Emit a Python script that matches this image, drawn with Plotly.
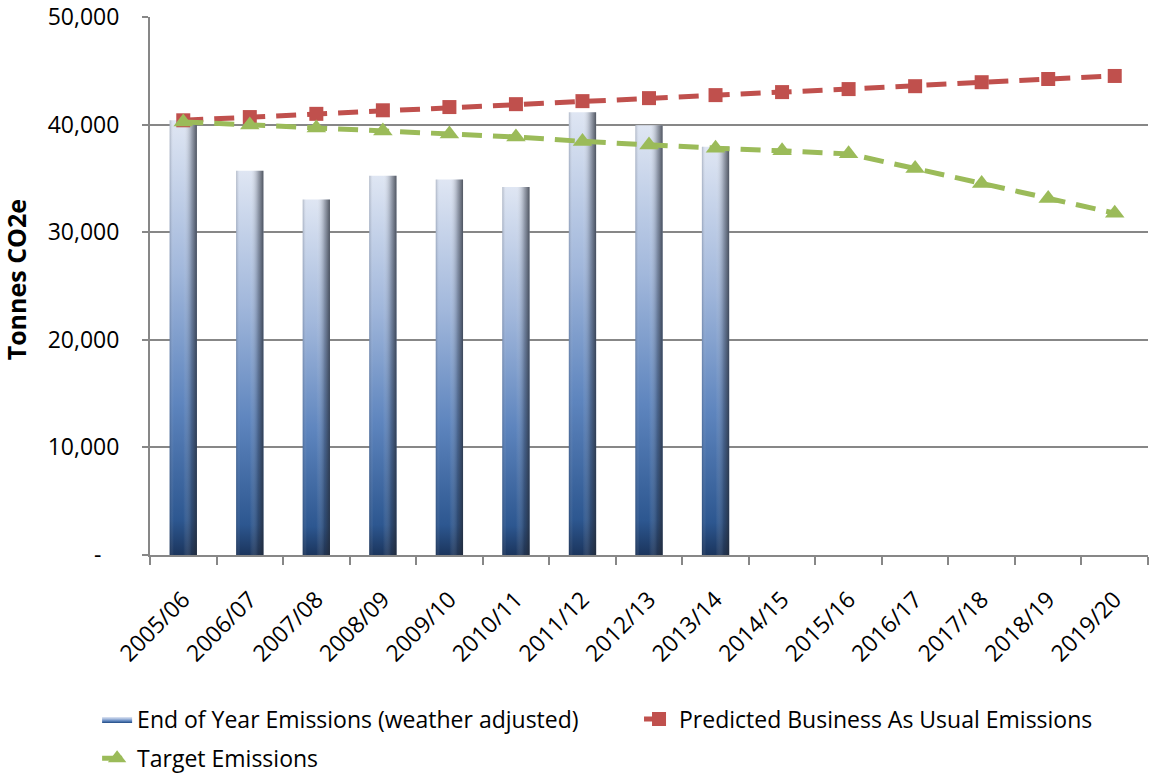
import plotly.graph_objects as go

# --- data -------------------------------------------------------------
years = ["2005/06", "2006/07", "2007/08", "2008/09", "2009/10", "2010/11",
         "2011/12", "2012/13", "2013/14", "2014/15", "2015/16", "2016/17",
         "2017/18", "2018/19", "2019/20"]
actual = [40400, 35700, 33050, 35250, 34900, 34200, 41150, 39950, 37950]
business_as_usual = [40400, 40700, 41000, 41330, 41630, 41900, 42180, 42460,
                     42740, 43020, 43300, 43570, 43940, 44240, 44520]
target = [40250, 39970, 39690, 39410, 39130, 38850, 38440, 38100, 37810,
          37560, 37280, 35920, 34520, 33140, 31770]
y_ticks = [0, 10000, 20000, 30000, 40000, 50000]
y_tick_text = ["-\u00a0\u00a0\u00a0", "10,000", "20,000", "30,000", "40,000", "50,000"]

FONT = "Open Sans"
GRID = "#878787"
half_w = 0.205

fig = go.Figure()

# bars drawn as filled shapes so they can carry a gradient
vert_scale = [[0, "#1b355d"], [0.08, "#2d5790"], [0.35, "#5e85be"],
              [0.65, "#a1b7db"], [1, "#dfe6f3"]]
side_shade = [[0, "rgba(30,40,60,0.25)"], [0.15, "rgba(255,255,255,0)"],
              [0.5, "rgba(255,255,255,0)"], [0.8, "rgba(45,50,62,0.35)"],
              [1, "rgba(35,40,50,0.75)"]]
for i, v in enumerate(actual):
    xs = [i - half_w, i + half_w, i + half_w, i - half_w, i - half_w]
    ys = [0, 0, v, v, 0]
    fig.add_trace(go.Scatter(
        x=xs, y=ys, mode="lines", fill="toself", line=dict(width=0),
        fillgradient=dict(type="vertical", colorscale=vert_scale),
        name="End of Year Emissions (weather adjusted)",
        legend="legend", showlegend=(i == 0), hoverinfo="skip"))
    fig.add_trace(go.Scatter(
        x=xs, y=ys, mode="lines", fill="toself", line=dict(width=0),
        fillgradient=dict(type="horizontal", colorscale=side_shade),
        showlegend=False, hoverinfo="skip"))

x_idx = list(range(len(years)))
fig.add_trace(go.Scatter(
    x=x_idx, y=business_as_usual, mode="lines+markers",
    name="Predicted Business As Usual Emissions", legend="legend3",
    line=dict(color="#c0504d", width=5, dash="20px,11px"),
    marker=dict(symbol="square", size=14, color="#c0504d")))
fig.add_trace(go.Scatter(
    x=x_idx, y=target, mode="lines+markers",
    name="Target Emissions", legend="legend2",
    line=dict(color="#9bbb59", width=5, dash="20px,11px"),
    marker=dict(symbol="triangle-up", size=17, color="#9bbb59")))

legend_style = dict(orientation="h", xanchor="left", yanchor="top",
                    font=dict(family=FONT, size=23), bgcolor="rgba(0,0,0,0)")

fig.update_layout(
    width=1152, height=775,
    margin=dict(l=150, r=4, t=17, b=220, autoexpand=False),
    paper_bgcolor="white", plot_bgcolor="white",
    font=dict(family=FONT, size=23, color="#000000"),
    xaxis=dict(
        range=[-0.5, len(years) - 0.5],
        tickmode="array", tickvals=x_idx, ticktext=years,
        tickangle=-45, ticks="", showgrid=False, zeroline=False,
        showline=True, linecolor=GRID, linewidth=2,
        tickfont=dict(family=FONT, size=23),
        ticklabelstandoff=20, automargin=False,
        minor=dict(tick0=-0.5, dtick=1, ticks="outside", ticklen=8,
                   tickwidth=2, tickcolor=GRID, showgrid=False),
    ),
    yaxis=dict(
        range=[0, 50000], tickmode="array", tickvals=y_ticks,
        ticktext=y_tick_text, ticks="outside", ticklen=6, tickwidth=2,
        tickcolor=GRID, showgrid=True, gridcolor=GRID, gridwidth=2,
        zeroline=False, showline=True, linecolor=GRID, linewidth=2,
        ticklabelstandoff=18, tickfont=dict(family=FONT, size=23),
        automargin=False,
    ),
    annotations=[dict(
        text="<b>Tonnes CO2e</b>", textangle=-90, showarrow=False,
        xref="paper", yref="paper", x=-0.134, y=0.511,
        xanchor="center", yanchor="middle",
        font=dict(family=FONT, size=25, color="#000000"))],
    legend=dict(x=-0.053, y=-0.265, **legend_style),
    legend3=dict(x=0.49, y=-0.265, **legend_style),
    legend2=dict(x=-0.053, y=-0.338, **legend_style),
)

fig.write_html("out.html")
